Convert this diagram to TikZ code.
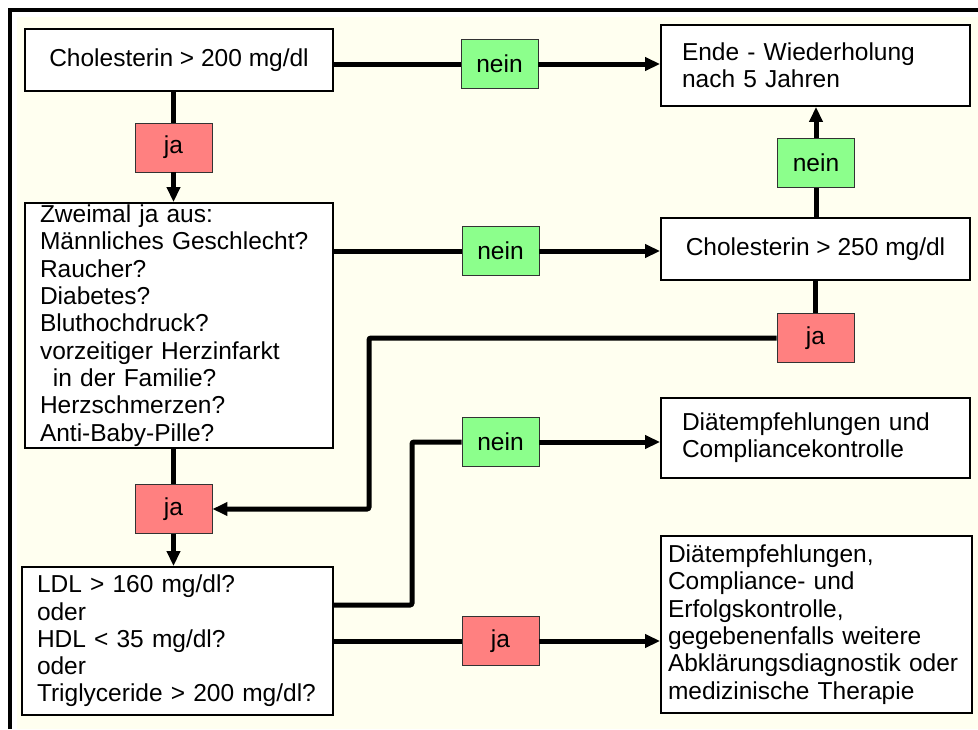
\documentclass[tikz,border=0pt]{standalone}
\usepackage{fontspec}
\setmainfont{Liberation Sans}
\usetikzlibrary{arrows.meta}
\definecolor{cream}{RGB}{255,255,240}
\definecolor{jared}{RGB}{255,128,128}
\definecolor{neingreen}{RGB}{140,255,140}
\begin{document}
\begin{tikzpicture}[x=1pt,y=-1pt,
  font=\fontsize{24.5}{27.3}\selectfont,
  box/.style={draw=black, line width=1.8pt, fill=white, rectangle, inner sep=0pt},
  lbl/.style={draw=black!80, line width=0.9pt, rectangle, minimum width=77pt, minimum height=49pt, inner sep=0pt},
  jabox/.style={lbl, fill=jared},
  neinbox/.style={lbl, fill=neingreen},
  conn/.style={line width=5pt, rounded corners=2pt},
  arr/.style={conn, -{Triangle[length=15pt,width=13pt]}}]
\useasboundingbox (0,0) rectangle (978,729);
\fill[cream] (17,17) rectangle (978,729);
\draw[line width=3.5pt] (10,729) -- (10,10) -- (978,10);

% main boxes
\node[box, minimum width=308pt, minimum height=62pt] (c200) at (179,60) {Cholesterin > 200 mg/dl};
\node[box, minimum width=308pt, minimum height=245pt, text width=278pt, inner xsep=15pt, align=left] (zw) at (179,325.5)
  {Zweimal ja aus:\\Männliches Geschlecht?\\Raucher?\\Diabetes?\\Bluthochdruck?\\vorzeitiger Herzinfarkt\\\hspace*{13pt}in der Familie?\\Herzschmerzen?\\Anti-Baby-Pille?};
\node[box, minimum width=311pt, minimum height=148pt, text width=281pt, inner xsep=15pt, align=left] (ldl) at (177.5,641)
  {LDL > 160 mg/dl?\\oder\\HDL < 35 mg/dl?\\oder\\Triglyceride > 200 mg/dl?};
\node[box, minimum width=309pt, minimum height=81pt, text width=267pt, inner xsep=21pt, align=left] (ende) at (815.5,65.5)
  {Ende - Wiederholung\\nach 5 Jahren};
\node[box, minimum width=309pt, minimum height=62pt] (c250) at (815.5,249) {Cholesterin > 250 mg/dl};
\node[box, minimum width=309pt, minimum height=80pt, text width=267pt, inner xsep=21pt, align=left] (diat1) at (815.5,438)
  {Diätempfehlungen und\\Compliancekontrolle};
\node[box, minimum width=311pt, minimum height=177pt, text width=297pt, inner xsep=7pt, align=left] (big) at (816.5,624.5)
  {Diätempfehlungen,\\Compliance- und\\Erfolgskontrolle,\\gegebenenfalls weitere\\Abklärungsdiagnostik oder\\medizinische Therapie};

% label boxes
\node[jabox] (j1) at (173.5,147.5) {ja};
\node[jabox] (j2) at (173.5,509) {ja};
\node[neinbox] (n1) at (499.5,64) {nein};
\node[neinbox] (n2) at (500.5,251) {nein};
\node[neinbox] (n3) at (816,163) {nein};
\node[jabox] (j3) at (815.5,338) {ja};
\node[neinbox] (n4) at (500.5,442) {nein};
\node[jabox] (j4) at (500.5,641) {ja};

\coordinate (k1) at (369,338);
\coordinate (k2) at (412,605);

% connectors
\draw[conn] (c200.south -| j1) -- (j1.north);
\draw[arr] (j1.south) -- (j1.south |- zw.north);
\draw[conn] (c200.east |- n1) -- (n1.west);
\draw[arr] (n1.east) -- (n1.east -| ende.west);
\draw[conn] (zw.east |- n2) -- (n2.west);
\draw[arr] (n2.east) -- (n2.east -| c250.west);
\draw[conn] (n3.south |- c250.north) -- (n3.south);
\draw[arr] (n3.north) -- (n3.north |- ende.south);
\draw[conn] (j3.north |- c250.south) -- (j3.north);
\draw[arr] (j3.west) -- (k1) |- (j2.east);
\draw[conn] (zw.south -| j2) -- (j2.north);
\draw[arr] (j2.south) -- (j2.south |- ldl.north);
\draw[conn] (k2 -| ldl.east) -- (k2) |- (n4.west);
\draw[arr] (n4.east) -- (n4.east -| diat1.west);
\draw[conn] (ldl.east |- j4) -- (j4.west);
\draw[arr] (j4.east) -- (j4.east -| big.west);
\end{tikzpicture}
\end{document}
